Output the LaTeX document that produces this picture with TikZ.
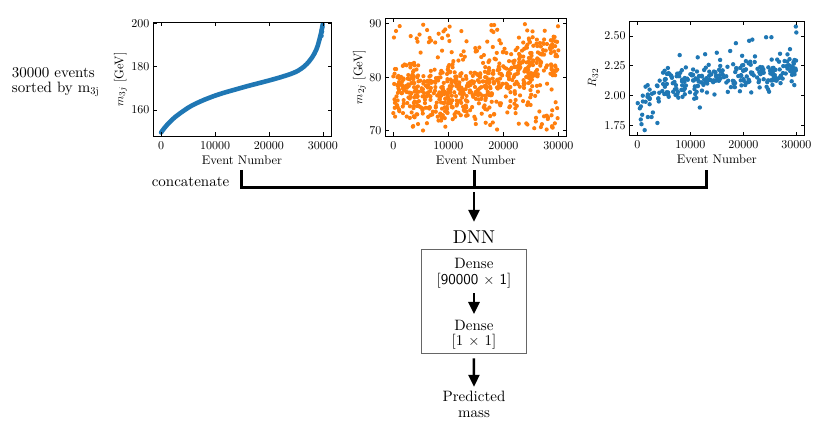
\documentclass[tikz,border=0pt]{standalone}
\usepackage{fontspec}
\setmainfont{lmroman10-regular.otf}[ItalicFont=lmroman10-italic.otf, BoldFont=lmroman10-bold.otf]
\setsansfont{lmsans10-regular.otf}
\usetikzlibrary{arrows.meta}
\definecolor{tabblue}{HTML}{1F77B4}
\definecolor{taborange}{HTML}{FF7F0E}
\tikzset{
  frame/.style={line width=0.8pt},
  tk/.style={line width=0.8pt},
  ticklab/.style={font=\fontsize{12}{14}\selectfont, inner sep=0pt},
  axlab/.style={font=\fontsize{12.5}{14}\selectfont, inner sep=0pt},
  flowtxt/.style={font=\fontsize{15}{15.7}\selectfont, inner sep=0pt, align=center},
  bracket/.style={line width=3pt, line join=miter},
  arr/.style={line width=2.6pt, -{Triangle[length=12pt,width=11pt]}},
  bdot/.style={fill=tabblue},
  odot/.style={fill=taborange},
}
\begin{document}
\begin{tikzpicture}[x=1pt,y=-1pt]
\useasboundingbox (0,0) rectangle (831,430);
\pgfmathsetseed{12345}

% ---------- left text ----------
\node[flowtxt, align=left, anchor=north west] (ev) at (11.7,67.6) {30000 events\\[-0.7pt]sorted by m$_{\rm 3j}$};

% ---------- plot 1 ----------
\coordinate (O1) at (161.1,456.35);
\begin{scope}[shift={(O1)}, x={(5.394pt,0pt)}, y={(0pt,2.165pt)}]
  \draw[tabblue, line width=4.6pt, line cap=round] plot[smooth, tension=0.6] coordinates {
    (0,149.6) (0.5,151.3) (1,152.8) (2,155.4) (3,157.5) (4,159.3) (5,161) (6,162.4)
    (7,163.6) (8,164.7) (10,166.6) (12,168.2) (14,169.6) (16,171) (18,172.3)
    (20,173.6) (22,175) (24,176.6) (25,177.6) (26,179.1) (27,181.2) (28,184.3)
    (28.8,188) (29.3,192) (29.7,196) (29.9,198.8)};
  \foreach \px/\py in {29.95/199.6, 29.9/198.3, 29.8/197.2, 29.85/196.2, 29.7/195.3, 29.75/194.2}
    \fill[bdot] (\px,\py) circle[radius=2.2pt];
  \draw[frame] (-1.5,148) rectangle (31.5,200.3);
  \foreach \t/\l in {0/0,10/10000,20/20000,30/30000}{
    \draw[tk] (\t,148) -- ++(0pt,3.5pt);
    \draw[tk] (\t,200.3) -- ++(0pt,-3.5pt);
    \node[ticklab, anchor=base] (p1x\t) at ([yshift=-14pt]\t,148) {\l};
  }
  \foreach \v in {160,180,200}{
    \draw[tk] (-1.5,\v) -- ++(3.5pt,0pt);
    \draw[tk] (31.5,\v) -- ++(-3.5pt,0pt);
    \node[ticklab, anchor=east] (p1y\v) at ([xshift=-3.5pt]-1.5,\v) {\v};
  }
\end{scope}
\node[axlab, rotate=90] (yl1) at (120.5,79.5) {$m_{3j}$ [GeV]};
\node[axlab, anchor=base] (xl1) at (242,165) {Event Number};

% ---------- plot 2 ----------
\coordinate (O2) at (393.3,505.15);
\begin{scope}[shift={(O2)}, x={(5.506pt,0pt)}, y={(0pt,5.35pt)}]
  \foreach \i in {1,...,220}{
    \pgfmathsetmacro\xx{30*rnd}
    \pgfmathsetmacro\yy{70+20*rnd}
    \fill[odot] (\xx,\yy) circle[radius=2.1pt];
  }
  \foreach \i in {1,...,500}{
    \pgfmathsetmacro\xx{30*rnd}
    \pgfmathsetmacro\cc{76.8+max(0.42*(\xx-12),0.009*(\xx-12)*(\xx-12))}
    \pgfmathsetmacro\yt{\cc+2.8*(rand+rand)}
    \pgfmathsetmacro\yy{ifthenelse(or(\yt<70,\yt>90),70+20*rnd,\yt)}
    \fill[odot] (\xx,\yy) circle[radius=2.1pt];
  }
  \draw[frame] (-1.5,69) rectangle (31.5,91);
  \foreach \t/\l in {0/0,10/10000,20/20000,30/30000}{
    \draw[tk] (\t,69) -- ++(0pt,3.5pt);
    \draw[tk] (\t,91) -- ++(0pt,-3.5pt);
    \node[ticklab, anchor=base] (p2x\t) at ([yshift=-14pt]\t,69) {\l};
  }
  \foreach \v in {70,80,90}{
    \draw[tk] (-1.5,\v) -- ++(3.5pt,0pt);
    \draw[tk] (31.5,\v) -- ++(-3.5pt,0pt);
    \node[ticklab, anchor=east] (p2y\v) at ([xshift=-3.5pt]-1.5,\v) {\v};
  }
\end{scope}
\node[axlab, rotate=90] (yl2) at (359.5,77) {$m_{2j}$ [GeV]};
\node[axlab, anchor=base] (xl2) at (475.8,165) {Event Number};

% ---------- plot 3 ----------
\coordinate (O3) at (637.25,333.8);
\begin{scope}[shift={(O3)}, x={(5.303pt,0pt)}, y={(0pt,119.1pt)}]
  \foreach \i in {1,...,280}{
    \pgfmathsetmacro\xx{30*rnd}
    \pgfmathsetmacro\cc{1.95+0.24*(1-exp(-\xx/7))+0.008*max(0,\xx-25)}
    \pgfmathsetmacro\yy{\cc+0.075*(rand+rand+rand)}
    \fill[bdot] (\xx,\yy) circle[radius=2.2pt];
  }
  \foreach \px/\py in {29.9/2.58, 30/2.53, 25.3/2.49, 24.3/2.49, 21.1/2.46, 21.7/2.47,
      18.6/2.44, 1.4/1.71, 0.8/1.76, 3.8/1.77, 11.8/1.9, 2/1.82, 2.7/1.82, 15/2.36, 8/2.34}
    \fill[bdot] (\px,\py) circle[radius=2.2pt];
  \draw[frame] (-1.5,1.6665) rectangle (31.5,2.6235);
  \foreach \t/\l in {0/0,10/10000,20/20000,30/30000}{
    \draw[tk] (\t,1.6665) -- ++(0pt,3.5pt);
    \draw[tk] (\t,2.6235) -- ++(0pt,-3.5pt);
    \node[ticklab, anchor=base] (p3x\t) at ([yshift=-13pt]\t,1.6665) {\l};
  }
  \foreach \v/\l in {1.75/1.75,2.0/2.00,2.25/2.25,2.5/2.50}{
    \draw[tk] (-1.5,\v) -- ++(3.5pt,0pt);
    \draw[tk] (31.5,\v) -- ++(-3.5pt,0pt);
    \node[ticklab, anchor=east] at ([xshift=-3.5pt]-1.5,\v) {\l};
  }
\end{scope}
\node[axlab, rotate=90] (yl3) at (593,78) {$R_{32}$};
\node[axlab, anchor=base] (xl3) at (716.8,163.3) {Event Number};

% ---------- concatenate bracket ----------
\coordinate (bt1) at (241.5,170);
\coordinate (bt2) at (474,170);
\coordinate (bt3) at (706.3,170);
\coordinate (bj) at (474,187.7);
\draw[bracket] (bt1) |- (bj) -| (bt3);
\draw[bracket] (bt2) -- (bj);
\node[flowtxt, anchor=base east] (cat) at (229.5,186.5) {concatenate};

% ---------- DNN ----------
\node[font=\fontsize{18.6}{22}\selectfont, inner sep=0pt, anchor=base] (dnn) at (474,243.2) {DNN};
\draw[arr] ([yshift=-4.8pt]bj) -- ([yshift=8.5pt]dnn.north);

\node[draw=black!60, line width=0.9pt, minimum width=104.3pt, minimum height=104pt, inner sep=0pt] (box) at (473.85,301.3) {};
\node[flowtxt, anchor=north] (d1) at (474,258.15) {Dense\\{}[{\sffamily 90000} $\times$ {\sffamily 1}]};
\node[flowtxt, anchor=north] (d2) at (474,319.85) {Dense\\{}[1 $\times$ 1]};
\draw[arr] ([yshift=-5.2pt]d1.south) -- ([yshift=5.85pt]d2.north);

\node[flowtxt, anchor=north] (pr) at (474,390.8) {Predicted\\mass};
\draw[arr] ([yshift=-4.7pt]box.south) -- ([yshift=4pt]pr.north);
\end{tikzpicture}
\end{document}
